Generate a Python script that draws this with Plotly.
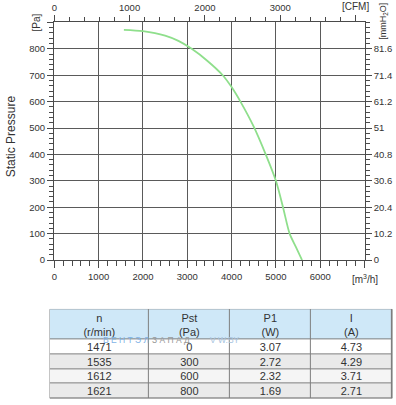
import plotly.graph_objects as go

# ---- data ----
flow_m3h = [1570, 2000, 2500, 2800, 3100, 3450, 3800, 4000, 4200, 4500, 4770, 5000, 5160, 5310, 5450, 5590]
static_pa = [872, 867, 850, 830, 800, 755, 700, 655, 600, 505, 400, 300, 200, 100, 50, 0]

M3H_PER_CFM = 1.699
PA_PER_MMH2O = 9.8039

x_ticks = [0, 1000, 2000, 3000, 4000, 5000, 6000, 7000]
x_ticktext = ["0", "1000", "2000", "3000", "4000", "5000", "6000", ""]
cfm_ticks = [0, 1000, 2000, 3000, 4000]
cfm_ticktext = ["0", "1000", "2000", "3000", ""]
y_ticks = [0, 100, 200, 300, 400, 500, 600, 700, 800, 900]
y_ticktext = ["0", "100", "200", "300", "400", "500", "600", "700", "800", ""]
mm_ticks = [0, 10.2, 20.4, 30.6, 40.8, 51, 61.2, 71.4, 81.6]
mm_ticktext = ["0", "10.2", "20.4", "30.6", "40.8", "51", "61.2", "71.4", "81.6"]

tbl_header = ["n<br>(r/min)", "Pst<br>(Pa)", "P1<br>(W)", "I<br>(A)"]
tbl_n = ["1471", "1535", "1612", "1621"]
tbl_pst = ["0", "300", "600", "800"]
tbl_p1 = ["3.07", "2.72", "2.32", "1.69"]
tbl_i = ["4.73", "4.29", "3.71", "2.71"]

W, H = 396, 405
FONT = "Liberation Sans, Arial, sans-serif"
AX = "#4a4a4a"
GRID = "#5a5a5a"
TXT = "#333333"
HEAD_BG = "#cfe8f8"
BORDER = "#7f7f7f"

# table geometry (pixels)
col_w = [100, 82, 82, 82]
head_h = 31
row_h = 15
tbl_left, tbl_top = 46.7, 312.7

def px(x):
    return x / W

def py(y):
    return 1 - y / H

fig = go.Figure()
fig.add_trace(go.Scatter(
    x=flow_m3h, y=static_pa, mode="lines",
    line=dict(color="#8fdf8c", width=1.8, shape="spline", smoothing=0.8),
    hoverinfo="skip", showlegend=False,
))
# same curve in CFM / mmH2O units, invisible, so the secondary axes are drawn
fig.add_trace(go.Scatter(
    x=[f / M3H_PER_CFM for f in flow_m3h], y=[p / PA_PER_MMH2O for p in static_pa],
    xaxis="x2", yaxis="y2", mode="lines", line=dict(color="rgba(0,0,0,0)", width=0),
    hoverinfo="skip", showlegend=False,
))

# ---- table as a heatmap on its own axes ----
x_edges = [0]
for w in col_w:
    x_edges.append(x_edges[-1] + w)
rows = [tbl_header] + [list(r) for r in zip(tbl_n, tbl_pst, tbl_p1, tbl_i)]
y_edges = [0, head_h]
for _ in tbl_n:
    y_edges.append(y_edges[-1] + row_h)
row_shade = [3] + [0, 2, 1, 2][:len(tbl_n)]
z = [[s] * len(col_w) for s in row_shade]
tbl_w, tbl_h = x_edges[-1], y_edges[-1]

fig.add_trace(go.Heatmap(
    x=x_edges, y=y_edges, z=z, text=rows, texttemplate="%{text}",
    textfont=dict(family=FONT, size=11, color=TXT),
    zmin=0, zmax=3, showscale=False,
    colorscale=[[0, "#ffffff"], [1 / 3, "#f5f5f5"], [2 / 3, "#eaeaea"], [1, HEAD_BG]],
    xgap=1, ygap=1, xaxis="x3", yaxis="y3", hoverinfo="skip",
))
fig.add_shape(type="rect", xref="x3", yref="y3", x0=0, x1=tbl_w, y0=0, y1=tbl_h,
              fillcolor=BORDER, line=dict(color=BORDER, width=1), layer="below")

axis_common = dict(showline=True, linecolor=AX, linewidth=1.3, ticks="outside",
                   tickcolor=AX, tickwidth=1, tickfont=dict(family=FONT, size=9.5, color=TXT),
                   zeroline=False, fixedrange=True)

fig.update_layout(
    width=W, height=H, margin=dict(l=0, r=0, t=0, b=0),
    paper_bgcolor="white", plot_bgcolor="white", showlegend=False,
    xaxis=dict(domain=[px(51.7), px(364.3)], range=[0, 7000], tickmode="array",
               tickvals=x_ticks, ticktext=x_ticktext, ticklen=7,
               showgrid=True, gridcolor=GRID, gridwidth=1,
               minor=dict(tickmode="linear", tick0=0, dtick=200, ticks="outside", ticklen=5,
                          tickcolor=AX, showgrid=False),
               anchor="y", **axis_common),
    xaxis2=dict(overlaying="x", side="top", anchor="y", range=[0, 7000 / M3H_PER_CFM],
                tickmode="array", tickvals=cfm_ticks, ticktext=cfm_ticktext, ticklen=6,
                showgrid=False,
                minor=dict(tickmode="linear", tick0=0, dtick=200, ticks="outside", ticklen=4,
                           tickcolor=AX, showgrid=False),
                **axis_common),
    yaxis=dict(domain=[py(263.3), py(22.7)], range=[0, 900], tickmode="array",
               tickvals=y_ticks, ticktext=y_ticktext, ticklen=6,
               showgrid=True, gridcolor=GRID, gridwidth=1,
               minor=dict(tickmode="linear", tick0=0, dtick=20, ticks="outside", ticklen=4,
                          tickcolor=AX, showgrid=False),
               anchor="x", **axis_common),
    yaxis2=dict(overlaying="y", side="right", anchor="x", range=[0, 900 / PA_PER_MMH2O],
                tickmode="array", tickvals=mm_ticks, ticktext=mm_ticktext, ticklen=6,
                showgrid=False,
                minor=dict(tickmode="linear", tick0=0, dtick=2.04, ticks="outside", ticklen=4,
                           tickcolor=AX, showgrid=False),
                **axis_common),
    xaxis3=dict(domain=[px(tbl_left), px(tbl_left + tbl_w)], range=[-0.5, tbl_w + 0.5],
                visible=False, fixedrange=True, anchor="y3"),
    yaxis3=dict(domain=[py(tbl_top + tbl_h), py(tbl_top)], range=[tbl_h + 0.5, -0.5],
                visible=False, fixedrange=True, anchor="x3"),
)

ann = [
    dict(text="Static Pressure", x=px(8), y=py(138), textangle=-90, font=dict(size=12)),
    dict(text="[Pa]", x=px(34), y=py(23), textangle=-90, font=dict(size=10)),
    dict(text="[mmH<sub>2</sub>O]", x=px(384), y=py(22), textangle=-90, font=dict(size=9)),
    dict(text="[CFM]", x=px(355), y=py(7), font=dict(size=10)),
    dict(text="[m<sup>3</sup>/h]", x=px(365), y=py(282), font=dict(size=10)),
    dict(text="В Е Н Т Э Л", x=px(124), y=py(344), font=dict(size=8.5, color="#7fb2e6")),
    dict(text="З А П А Д", x=px(169), y=py(344), font=dict(size=8.5, color="#9a9a9a")),
    dict(text="V W.BY", x=px(224), y=py(344), font=dict(size=8.5, color="#a8c4e0")),
]
for a in ann:
    f = dict(family=FONT, color=TXT)
    f.update(a.pop("font"))
    fig.add_annotation(xref="paper", yref="paper", showarrow=False,
                       xanchor="center", yanchor="middle", font=f, **a)

fig.write_html("out.html", config={"displayModeBar": False, "staticPlot": True},
               post_script="document.body.style.margin='0px';document.body.style.overflow='hidden';")
